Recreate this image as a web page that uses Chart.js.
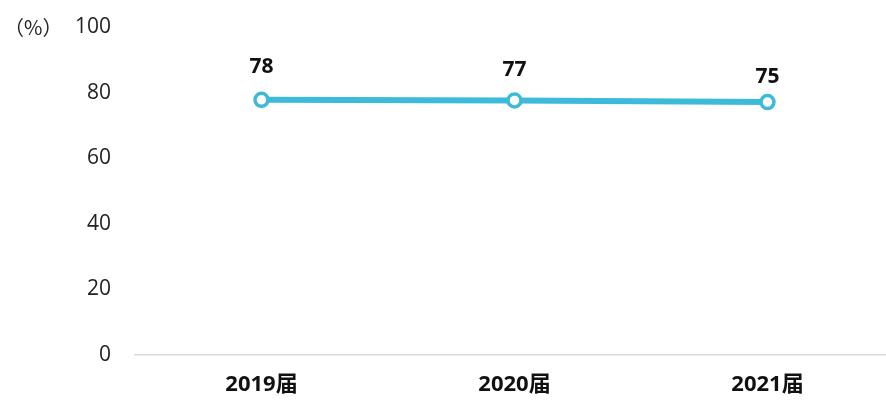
<!DOCTYPE html>
<html>
<head>
<meta charset="utf-8">
<script src="https://cdn.jsdelivr.net/npm/chart.js@4/dist/chart.umd.min.js"></script>
<style>
  html, body { margin: 0; padding: 0; background: #fff; overflow: hidden; }
  #wrap { width: 886px; height: 403px; overflow: hidden; }
  #chart { display: block; width: 904px; height: 403px; }
</style>
</head>
<body>
<div id="wrap"><canvas id="chart" width="904" height="403"></canvas></div>
<script>
const categories = ['2019届', '2020届', '2021届'];
// where the points sit in the picture
const lineValues = [77.8, 77.6, 77.1];
// the numbers written above the points
const labelValues = [78, 77, 75];
const yTicks = [0, 20, 40, 60, 80, 100];

const FONT = "'Open Sans', 'Noto Sans CJK SC', sans-serif";
const LINE_COLOR = '#3dbad9';

// value labels above each point + the (%) unit label
const labelPlugin = {
  id: 'labels',
  afterDatasetsDraw(chart) {
    const ctx = chart.ctx;
    const meta = chart.getDatasetMeta(0);
    const yScale = chart.scales.y;
    ctx.save();
    ctx.fillStyle = '#111';
    ctx.font = 'bold 21px ' + FONT;
    ctx.textAlign = 'center';
    ctx.textBaseline = 'middle';
    meta.data.forEach((pt, i) => {
      const y = yScale.getPixelForValue(labelValues[i]) - 32;
      ctx.fillText(String(labelValues[i]), pt.x, y);
    });
    ctx.font = "20px 'Noto Sans CJK SC', sans-serif";
    ctx.fillStyle = '#222';
    ctx.textAlign = 'left';
    ctx.fillText('（%）', 4, yScale.getPixelForValue(100));
    ctx.restore();
  }
};

new Chart(document.getElementById('chart'), {
  type: 'line',
  data: {
    labels: categories,
    datasets: [{
      data: lineValues,
      borderColor: LINE_COLOR,
      borderWidth: 6,
      pointRadius: 6.5,
      pointBorderWidth: 3.5,
      pointBackgroundColor: '#fff',
      pointBorderColor: LINE_COLOR,
      tension: 0
    }]
  },
  options: {
    responsive: false,
    animation: false,
    layout: { padding: { top: 27, right: 0, bottom: 0, left: 0 } },
    plugins: {
      legend: { display: false },
      tooltip: { enabled: false }
    },
    scales: {
      x: {
        offset: true,
        grid: { display: false, drawTicks: false },
        border: { display: true, color: '#d9d9d9', width: 1.5 },
        ticks: {
          color: '#111',
          font: { family: FONT, size: 22, weight: 'bold' },
          padding: 17
        },
        afterFit(scale) { scale.height = 48; }
      },
      y: {
        min: 0,
        max: 100,
        afterBuildTicks(scale) { scale.ticks = yTicks.map(v => ({ value: v })); },
        grid: { display: false, drawTicks: false },
        border: { display: false },
        ticks: {
          color: '#222',
          font: { family: FONT, size: 21 },
          padding: 24
        },
        afterFit(scale) {
          scale.width = 135;
          scale.paddingTop = 0;
          scale.paddingBottom = 0;
        }
      }
    }
  },
  plugins: [labelPlugin]
});
</script>
</body>
</html>
